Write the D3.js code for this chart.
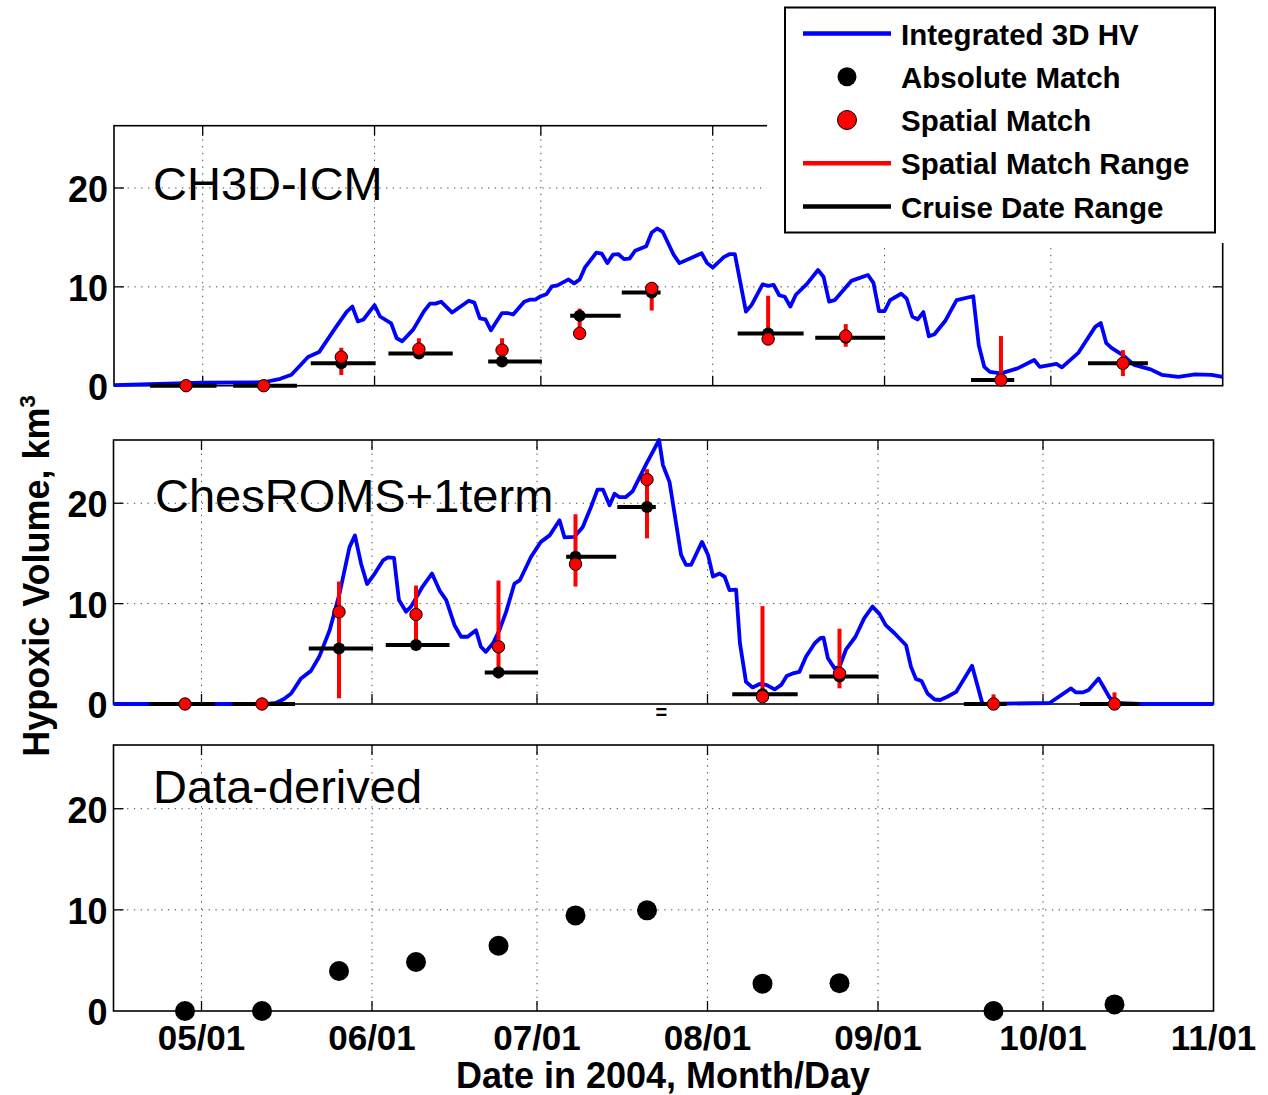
<!DOCTYPE html>
<html><head><meta charset="utf-8">
<script src="https://cdn.jsdelivr.net/npm/d3@7/dist/d3.min.js"></script>
<style>body{margin:0;background:#fff} svg{display:block}</style>
</head><body><svg id="c" width="1268" height="1095"></svg>
<script>
// ---------- data ----------
const startDate = "2004-04-15";
const endDate = "2004-11-01";
const xTickDates = ["2004-05-01","2004-06-01","2004-07-01","2004-08-01","2004-09-01","2004-10-01","2004-11-01"];
const xTickLabels = ["05/01","06/01","07/01","08/01","09/01","10/01","11/01"];
const yTicks = [0, 10, 20];
const yMax = 26.3;

// days since 2004-04-15
const cruiseDay   = [13, 27, 41, 55, 70, 84, 97, 118, 132, 160, 182];
const cruiseStart = [6.5, 21.5, 35.5, 49.5, 67.5, 82.3, 91.6, 112.5, 126.5, 154.6, 175.7];
const cruiseEnd   = [18.5, 33, 47.2, 61.1, 77.2, 91.4, 98.6, 124.4, 139.1, 162.4, 186.5];

const ch3dDay = [0,16,27,30,32,34,35,37,40,42,43,44,45,47,48,50,51,52,54,56,57,58,59,61,64,65,66,67,68,69,70,71,72,74,75,76,77,78,79,80,82,83,84,85,87,88,89,90,91,92,93,94,96,97,98,99,101,102,104,106,107,108,110,111,112,114,115,117,118,119,120,121,122,123,125,127,128,129,130,133,136,137,138,139,140,142,143,144,145,146,147,148,150,152,155,156,157,158,160,163,166,167,169,170,171,174,177,178,179,180,182,184,187,189,192,195,198,200];
const ch3dHV = [0.05,0.3,0.35,0.7,1.1,2.3,2.9,3.4,5.9,7.5,8.0,6.5,6.7,8.15,7.0,6.3,4.8,4.5,5.7,7.6,8.3,8.3,8.5,7.4,8.6,8.4,6.8,6.7,5.6,6.5,7.35,7.35,7.2,8.5,8.7,8.7,9.05,9.25,10.05,10.15,10.75,10.35,10.75,12.0,13.45,13.35,12.4,13.25,13.3,12.8,12.85,13.65,14.1,15.5,15.9,15.55,13.2,12.4,12.9,13.4,12.4,11.95,13.0,13.3,13.3,7.5,8.15,10.25,10.1,10.2,9.15,9.0,8.0,9.2,10.3,11.7,11.0,8.5,8.65,10.6,11.2,10.4,7.55,7.55,8.65,9.3,8.8,7.0,6.7,7.45,5.0,5.2,6.6,8.65,9.05,4.1,1.9,1.4,1.25,1.75,2.6,1.9,2.1,2.2,1.85,3.35,5.95,6.35,4.3,3.8,3.1,2.1,1.65,1.1,0.9,1.15,1.1,0.9];
const ch3dAbs     = [0, 0, 2.26, 3.25, 2.45, 7.07, 9.43, 5.29, 4.85, 0.58, 2.26];
const ch3dSpatial = [0, 0, 2.9, 3.7, 3.6, 5.29, 9.84, 4.72, 5.02, 0.58, 2.26];
const ch3dLo      = [0, 0, 1.08, 3.0, 2.4, 5.0, 7.6, 4.72, 3.94, 0.58, 0.98];
const ch3dHi      = [0, 0, 3.84, 4.8, 4.8, 7.8, 10.2, 9.1, 6.23, 5.02, 3.6];

const romsDay = [0,28,29.5,31,32.3,34.1,35.9,37.4,39.3,41.1,42.9,43.9,45,46.1,47.5,49,49.9,51,51.9,53.2,54.1,56.2,57.9,59.3,60.5,62,63.2,64.4,65.9,66.8,67.7,69,70.2,71.4,72.9,73.9,75.9,77.7,79.3,81.1,82,83.8,85.3,86.8,88,89,90.2,91.1,92,93.1,94.4,96.9,99.2,99.9,101.1,103.2,104.1,105,107,108.1,109,110.2,111.1,112,113.2,113.9,115,116.2,117.5,118.7,120.2,121.4,122.4,123.5,124.7,125.9,127.5,128.5,129.1,129.9,131.1,132,133.2,134.9,136.5,138,139.3,140.4,142,144.1,145,145.9,146.9,148,149.3,150.3,151.7,153.2,156.1,158,170.2,174.1,175,176.2,177.3,179.1,179.8,181.1,182.3,186.5,200];
const romsHV = [0,0,0.1,0.5,1.05,2.55,3.3,4.7,7.35,11.0,15.6,16.8,14.0,11.95,13.0,14.3,14.6,14.55,10.35,9.2,9.7,11.7,13.0,11.3,10.35,7.85,6.7,6.7,7.35,5.7,5.2,6.05,7.4,9.2,12.0,12.35,14.65,16.15,16.8,18.3,16.6,16.65,17.6,19.6,21.35,21.35,19.8,20.95,20.6,20.6,21.2,23.95,26.3,23.8,22.1,14.85,13.85,13.85,16.15,14.85,12.7,13.0,12.7,11.35,11.4,6.05,2.2,1.65,2.0,1.9,1.45,1.9,2.8,3.05,3.2,4.7,6.05,6.55,6.6,4.55,3.55,3.7,5.45,6.7,8.55,9.7,8.95,7.85,7.05,5.85,3.7,2.5,2.3,1.05,0.45,0.4,0.75,1.2,3.8,0,0.1,1.55,1.15,1.15,1.4,2.55,1.9,0.65,0.1,0,0];
const romsAbs     = [0, 0, 5.54, 5.87, 3.15, 14.66, 19.63, 0.96, 2.75, 0, 0];
const romsSpatial = [0, 0, 9.18, 8.92, 5.7, 13.93, 22.36, 0.73, 3.05, 0, 0];
const romsLo      = [0, 0, 0.57, 5.87, 2.55, 11.7, 16.5, 0.73, 1.56, 0, 0];
const romsHi      = [0, 0, 12.2, 11.8, 12.3, 18.9, 23.4, 9.75, 7.5, 0.96, 1.16];

const dataDerived = [0, 0, 3.95, 4.85, 6.45, 9.45, 9.95, 2.7, 2.75, 0, 0.65];

const legendLabels = ["Integrated 3D HV","Absolute Match","Spatial Match","Spatial Match Range","Cruise Date Range"];
const panelTitles = ["CH3D-ICM","ChesROMS+1term","Data-derived"];

// ---------- layout ----------
const FONT = "'Liberation Sans', Arial, Helvetica, sans-serif";
const parse = d3.utcParse("%Y-%m-%d");
const BASE = parse(startDate).getTime();
const dayToDate = d => new Date(BASE + d * 864e5);

const layout = [
  {x0:114, x1:1222.7, y0:125.7, y1:385.7, tx:153, ty:200, showX:false},
  {x0:113.5, x1:1213.5, y0:440, y1:704, tx:155, ty:511.5, showX:false},
  {x0:113.5, x1:1213.5, y0:745, y1:1011, tx:153, ty:803, showX:true}
];
const series = [
  {day:ch3dDay, hv:ch3dHV, abs:ch3dAbs, sp:ch3dSpatial, lo:ch3dLo, hi:ch3dHi},
  {day:romsDay, hv:romsHV, abs:romsAbs, sp:romsSpatial, lo:romsLo, hi:romsHi},
  {dots:dataDerived}
];

const svg = d3.select("#c");
svg.append("rect").attr("width",1268).attr("height",1095).attr("fill","#fff");

layout.forEach((L, i) => {
  const S = series[i];
  const x = d3.scaleUtc().domain([parse(startDate), parse(endDate)]).range([L.x0, L.x1]);
  const y = d3.scaleLinear().domain([0, yMax]).range([L.y1, L.y0]);
  const g = svg.append("g");
  const tickDates = xTickDates.map(parse);

  // grid
  g.selectAll(".gx").data(tickDates.slice(0, -1)).join("line")
    .attr("x1", d => x(d)).attr("x2", d => x(d)).attr("y1", L.y0).attr("y2", L.y1)
    .attr("stroke","#444").attr("stroke-width",1).attr("stroke-dasharray","1.3,5.5");
  g.selectAll(".gy").data(yTicks.filter(t => t > 0)).join("line")
    .attr("x1", L.x0).attr("x2", L.x1).attr("y1", d => y(d)).attr("y2", d => y(d))
    .attr("stroke","#444").attr("stroke-width",1).attr("stroke-dasharray","1.3,5.5");

  // box
  g.append("rect").attr("x",L.x0).attr("y",L.y0).attr("width",L.x1-L.x0).attr("height",L.y1-L.y0)
    .attr("fill","none").attr("stroke","#000").attr("stroke-width",1.6);

  // inward ticks
  const TL = 10;
  tickDates.slice(0,-1).forEach(d => {
    g.append("line").attr("x1",x(d)).attr("x2",x(d)).attr("y1",L.y1).attr("y2",L.y1-TL).attr("stroke","#000").attr("stroke-width",1.3);
    g.append("line").attr("x1",x(d)).attr("x2",x(d)).attr("y1",L.y0).attr("y2",L.y0+TL).attr("stroke","#000").attr("stroke-width",1.3);
  });
  yTicks.filter(t => t > 0).forEach(t => {
    g.append("line").attr("x1",L.x0).attr("x2",L.x0+TL).attr("y1",y(t)).attr("y2",y(t)).attr("stroke","#000").attr("stroke-width",1.3);
    g.append("line").attr("x1",L.x1).attr("x2",L.x1-TL).attr("y1",y(t)).attr("y2",y(t)).attr("stroke","#000").attr("stroke-width",1.3);
  });

  // y tick labels
  g.selectAll(".yl").data(yTicks).join("text")
    .attr("x", L.x0 - 6).attr("y", d => y(d) + 14)
    .attr("text-anchor","end").attr("font-family",FONT).attr("font-weight","bold")
    .attr("font-size",36).text(d => d);

  // x tick labels
  if (L.showX) {
    g.selectAll(".xl").data(tickDates).join("text")
      .attr("x", d => x(d)).attr("y", L.y1 + 39)
      .attr("text-anchor","middle").attr("font-family",FONT).attr("font-weight","bold")
      .attr("font-size",35).text((d, k) => xTickLabels[k]);
  }

  // title
  g.append("text").attr("x",L.tx).attr("y",L.ty).attr("font-family",FONT)
    .attr("font-size",47).text(panelTitles[i]);

  if (S.dots) {
    g.selectAll(".dd").data(S.dots).join("circle")
      .attr("cx", (d,k) => x(dayToDate(cruiseDay[k]))).attr("cy", d => y(d))
      .attr("r", 10).attr("fill","#000");
    return;
  }

  const pts = S.day.map((d,k) => [x(dayToDate(d)), y(S.hv[k])]);
  g.append("path").attr("d", d3.line()(pts)).attr("fill","none")
    .attr("stroke","#0000ff").attr("stroke-width",3.8).attr("stroke-linejoin","round");

  // cruise date ranges
  g.selectAll(".cr").data(S.abs).join("line")
    .attr("x1",(d,k)=>x(dayToDate(cruiseStart[k]))).attr("x2",(d,k)=>x(dayToDate(cruiseEnd[k])))
    .attr("y1",d=>y(d)).attr("y2",d=>y(d)).attr("stroke","#000").attr("stroke-width",4);
  // spatial ranges
  g.selectAll(".sr").data(S.lo).join("line")
    .attr("x1",(d,k)=>x(dayToDate(cruiseDay[k]))).attr("x2",(d,k)=>x(dayToDate(cruiseDay[k])))
    .attr("y1",d=>y(d)).attr("y2",(d,k)=>y(S.hi[k])).attr("stroke","#ff0000").attr("stroke-width",4);
  // absolute match dots
  g.selectAll(".ab").data(S.abs).join("circle")
    .attr("cx",(d,k)=>x(dayToDate(cruiseDay[k]))).attr("cy",d=>y(d))
    .attr("r",6).attr("fill","#000");
  // spatial match dots
  g.selectAll(".sp").data(S.sp).join("circle")
    .attr("cx",(d,k)=>x(dayToDate(cruiseDay[k]))).attr("cy",d=>y(d))
    .attr("r",6.2).attr("fill","#ff0000").attr("stroke","#000").attr("stroke-width",1);

  if (i === 1) {
    // small stray "=" glyph under the axis near the July peak
    g.append("text").attr("x", x(dayToDate(99.6))).attr("y", y(0) + 15)
      .attr("text-anchor","middle").attr("font-family",FONT).attr("font-weight","bold")
      .attr("font-size",20).text("=");
  }
});

// axis titles
svg.append("text").attr("transform","translate(49,576) rotate(-90)")
  .attr("text-anchor","middle").attr("font-family",FONT).attr("font-weight","bold").attr("font-size",36)
  .call(t => {
    t.append("tspan").text("Hypoxic Volume, km");
    t.append("tspan").attr("font-size",22).attr("dy",-14).text("3");
  });
svg.append("text").attr("x",663).attr("y",1088).attr("text-anchor","middle")
  .attr("font-family",FONT).attr("font-weight","bold").attr("font-size",36)
  .text("Date in 2004, Month/Day");

// legend
const lg = svg.append("g");
lg.append("rect").attr("x",767).attr("y",0).attr("width",470).attr("height",243).attr("fill","#fff");
lg.append("rect").attr("x",785).attr("y",7.5).attr("width",430).attr("height",225)
  .attr("fill","#fff").attr("stroke","#000").attr("stroke-width",2);
const ly = d3.scalePoint().domain(legendLabels).range([33.5, 206.5]);
lg.selectAll(".lt").data(legendLabels).join("text")
  .attr("x",901).attr("y",d=>ly(d)+11).attr("font-family",FONT).attr("font-weight","bold")
  .attr("font-size",29.5).text(d=>d);
const lineSamples = [{k:0,c:"#0000ff"},{k:3,c:"#ff0000"},{k:4,c:"#000"}];
lineSamples.forEach(s => {
  lg.append("line").attr("x1",803).attr("x2",891).attr("y1",ly(legendLabels[s.k])).attr("y2",ly(legendLabels[s.k]))
    .attr("stroke",s.c).attr("stroke-width",4.5);
});
lg.append("circle").attr("cx",847).attr("cy",ly(legendLabels[1])).attr("r",9.5).attr("fill","#000");
lg.append("circle").attr("cx",847).attr("cy",ly(legendLabels[2])).attr("r",9.5).attr("fill","#ff0000").attr("stroke","#000").attr("stroke-width",1);
</script></body></html>
